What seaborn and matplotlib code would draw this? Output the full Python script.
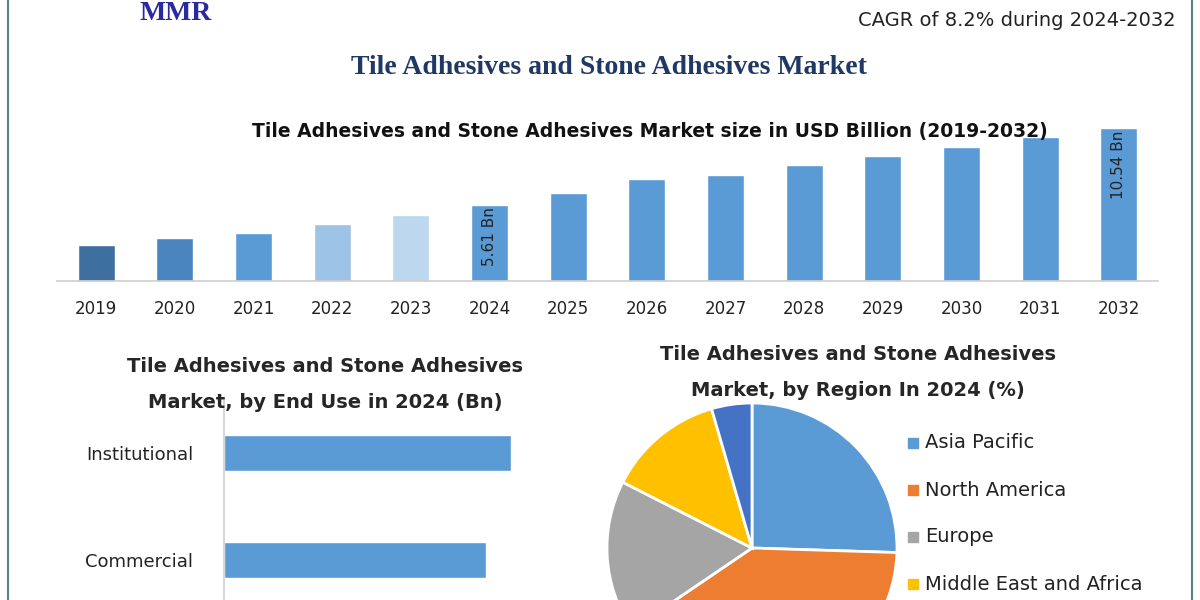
import matplotlib
matplotlib.use("Agg")
import matplotlib.pyplot as plt
import seaborn as sns
import pandas as pd
from matplotlib.patches import Rectangle

years = [str(y) for y in range(2019, 2033)]
market_size = [3.05, 3.49, 3.81, 4.39, 4.96, 5.61, 6.38, 7.27, 7.53, 8.17, 8.74, 9.32, 9.96, 10.54]
bar_colors = ["#3f6f9f", "#4a85c0", "#5b9bd5", "#9dc3e6", "#bdd7ee"] + ["#5b9bd5"] * 9

end_use = ["Institutional", "Commercial", "Residential"]
end_use_vals = [2.9, 2.65, 2.2]

regions = ["Asia Pacific", "North America", "Europe", "Middle East and Africa", "South America"]
region_share = [25.5, 40.0, 17.0, 13.0, 4.5]
region_colors = ["#5b9bd5", "#ed7d31", "#a5a5a5", "#ffc000", "#4472c4"]

sns.set_theme(style="white")
plt.rcParams['font.family'] = ['DejaVu Sans']
fig = plt.figure(figsize=(12, 6), dpi=100)
W, H = 1200, 600
def ax_px(x0, y0, x1, y1):
    return fig.add_axes([x0 / W, 1 - y1 / H, (x1 - x0) / W, (y1 - y0) / H])

# border
fig.patches.append(Rectangle((8 / W, -0.1), (1192 - 8) / W, 1.2, transform=fig.transFigure,
                             fill=False, edgecolor="#5d7f86", lw=1.5))
fig.text(140 / W, 1 - 14 / H, "MMR", color="#2a2aa0", fontsize=20, fontweight="bold",
         family="Liberation Serif", ha="left", va="center")
fig.text(1176 / W, 1 - 20 / H, "CAGR of 8.2% during 2024-2032", fontsize=14, ha="right",
         va="center", color="#222222")
fig.text(609 / W, 1 - 67 / H, "Tile Adhesives and Stone Adhesives Market", fontsize=20,
         fontweight="bold", family="Liberation Serif", color="#1f3864", ha="center", va="center")

# top bar chart
ax = ax_px(57, 95, 1158, 281)
df = pd.DataFrame({"year": years, "val": market_size})
sns.barplot(data=df, x="year", y="val", hue="year", palette=bar_colors, legend=False,
            width=0.47, ax=ax, saturation=1)
ytop = 0.74 + 9.8 * 186 / 153
ax.set_ylim(0.74, ytop)
ax.set_xlim(-0.5, 13.5)
sns.despine(ax=ax, left=True, top=True, right=True)
ax.spines["bottom"].set_color("#d0d0d0")
ax.set_yticks([])
ax.set_xlabel(""); ax.set_ylabel("")
ax.tick_params(axis="x", labelsize=12, length=0, pad=14, labelcolor="#222222")
for i in (5, 13):
    ax.text(i, market_size[i] - 0.15, f"{market_size[i]:.2f} Bn", rotation=90, ha="center",
            va="top", fontsize=11, color="#222222")
fig.text(650 / W, 1 - 132 / H, "Tile Adhesives and Stone Adhesives Market size in USD Billion (2019-2032)",
         ha="center", va="center", fontsize=13.5, fontweight="bold", color="#111111")

# end use
fig.text(325 / W, 1 - 367 / H, "Tile Adhesives and Stone Adhesives", fontsize=14, fontweight="bold",
         ha="center", va="center")
fig.text(325 / W, 1 - 403 / H, "Market, by End Use in 2024 (Bn)", fontsize=14, fontweight="bold",
         ha="center", va="center")
ax2 = ax_px(224, 400, 560, 600)
df2 = pd.DataFrame({"cat": end_use, "val": end_use_vals})
sns.barplot(data=df2, y="cat", x="val", color="#5b9bd5", saturation=1, width=0.34, ax=ax2)
ax2.set_ylim(1.374, -0.495)
ax2.set_xlim(0, 3.4)
sns.despine(ax=ax2, top=True, right=True, bottom=True)
ax2.spines["left"].set_color("#d0d0d0")
ax2.set_xticks([])
ax2.set_xlabel(""); ax2.set_ylabel("")
ax2.tick_params(axis="y", labelsize=13, length=0, pad=22, labelcolor="#222222")

# pie
fig.text(858 / W, 1 - 355 / H, "Tile Adhesives and Stone Adhesives", fontsize=14, fontweight="bold",
         ha="center", va="center")
fig.text(858 / W, 1 - 390 / H, "Market, by Region In 2024 (%)", fontsize=14, fontweight="bold",
         ha="center", va="center")
ax3 = ax_px(607, 403, 897, 693)
wedges, _ = ax3.pie(region_share, colors=region_colors, startangle=90, counterclock=False,
                    wedgeprops=dict(edgecolor="white", linewidth=2))
ax3.set_xlim(-1, 1); ax3.set_ylim(-1, 1)
ax3.set_aspect("equal")
for k, (name, col) in enumerate(zip(regions[:4], region_colors[:4])):
    y = 443 + k * 47
    fig.patches.append(Rectangle((908 / W, 1 - (y + 5) / H), 10 / W, 10 / H,
                                 transform=fig.transFigure, color=col))
    fig.text(925 / W, 1 - y / H, name, fontsize=14, va="center", color="#222222")

fig.savefig("out.png", dpi=100)
